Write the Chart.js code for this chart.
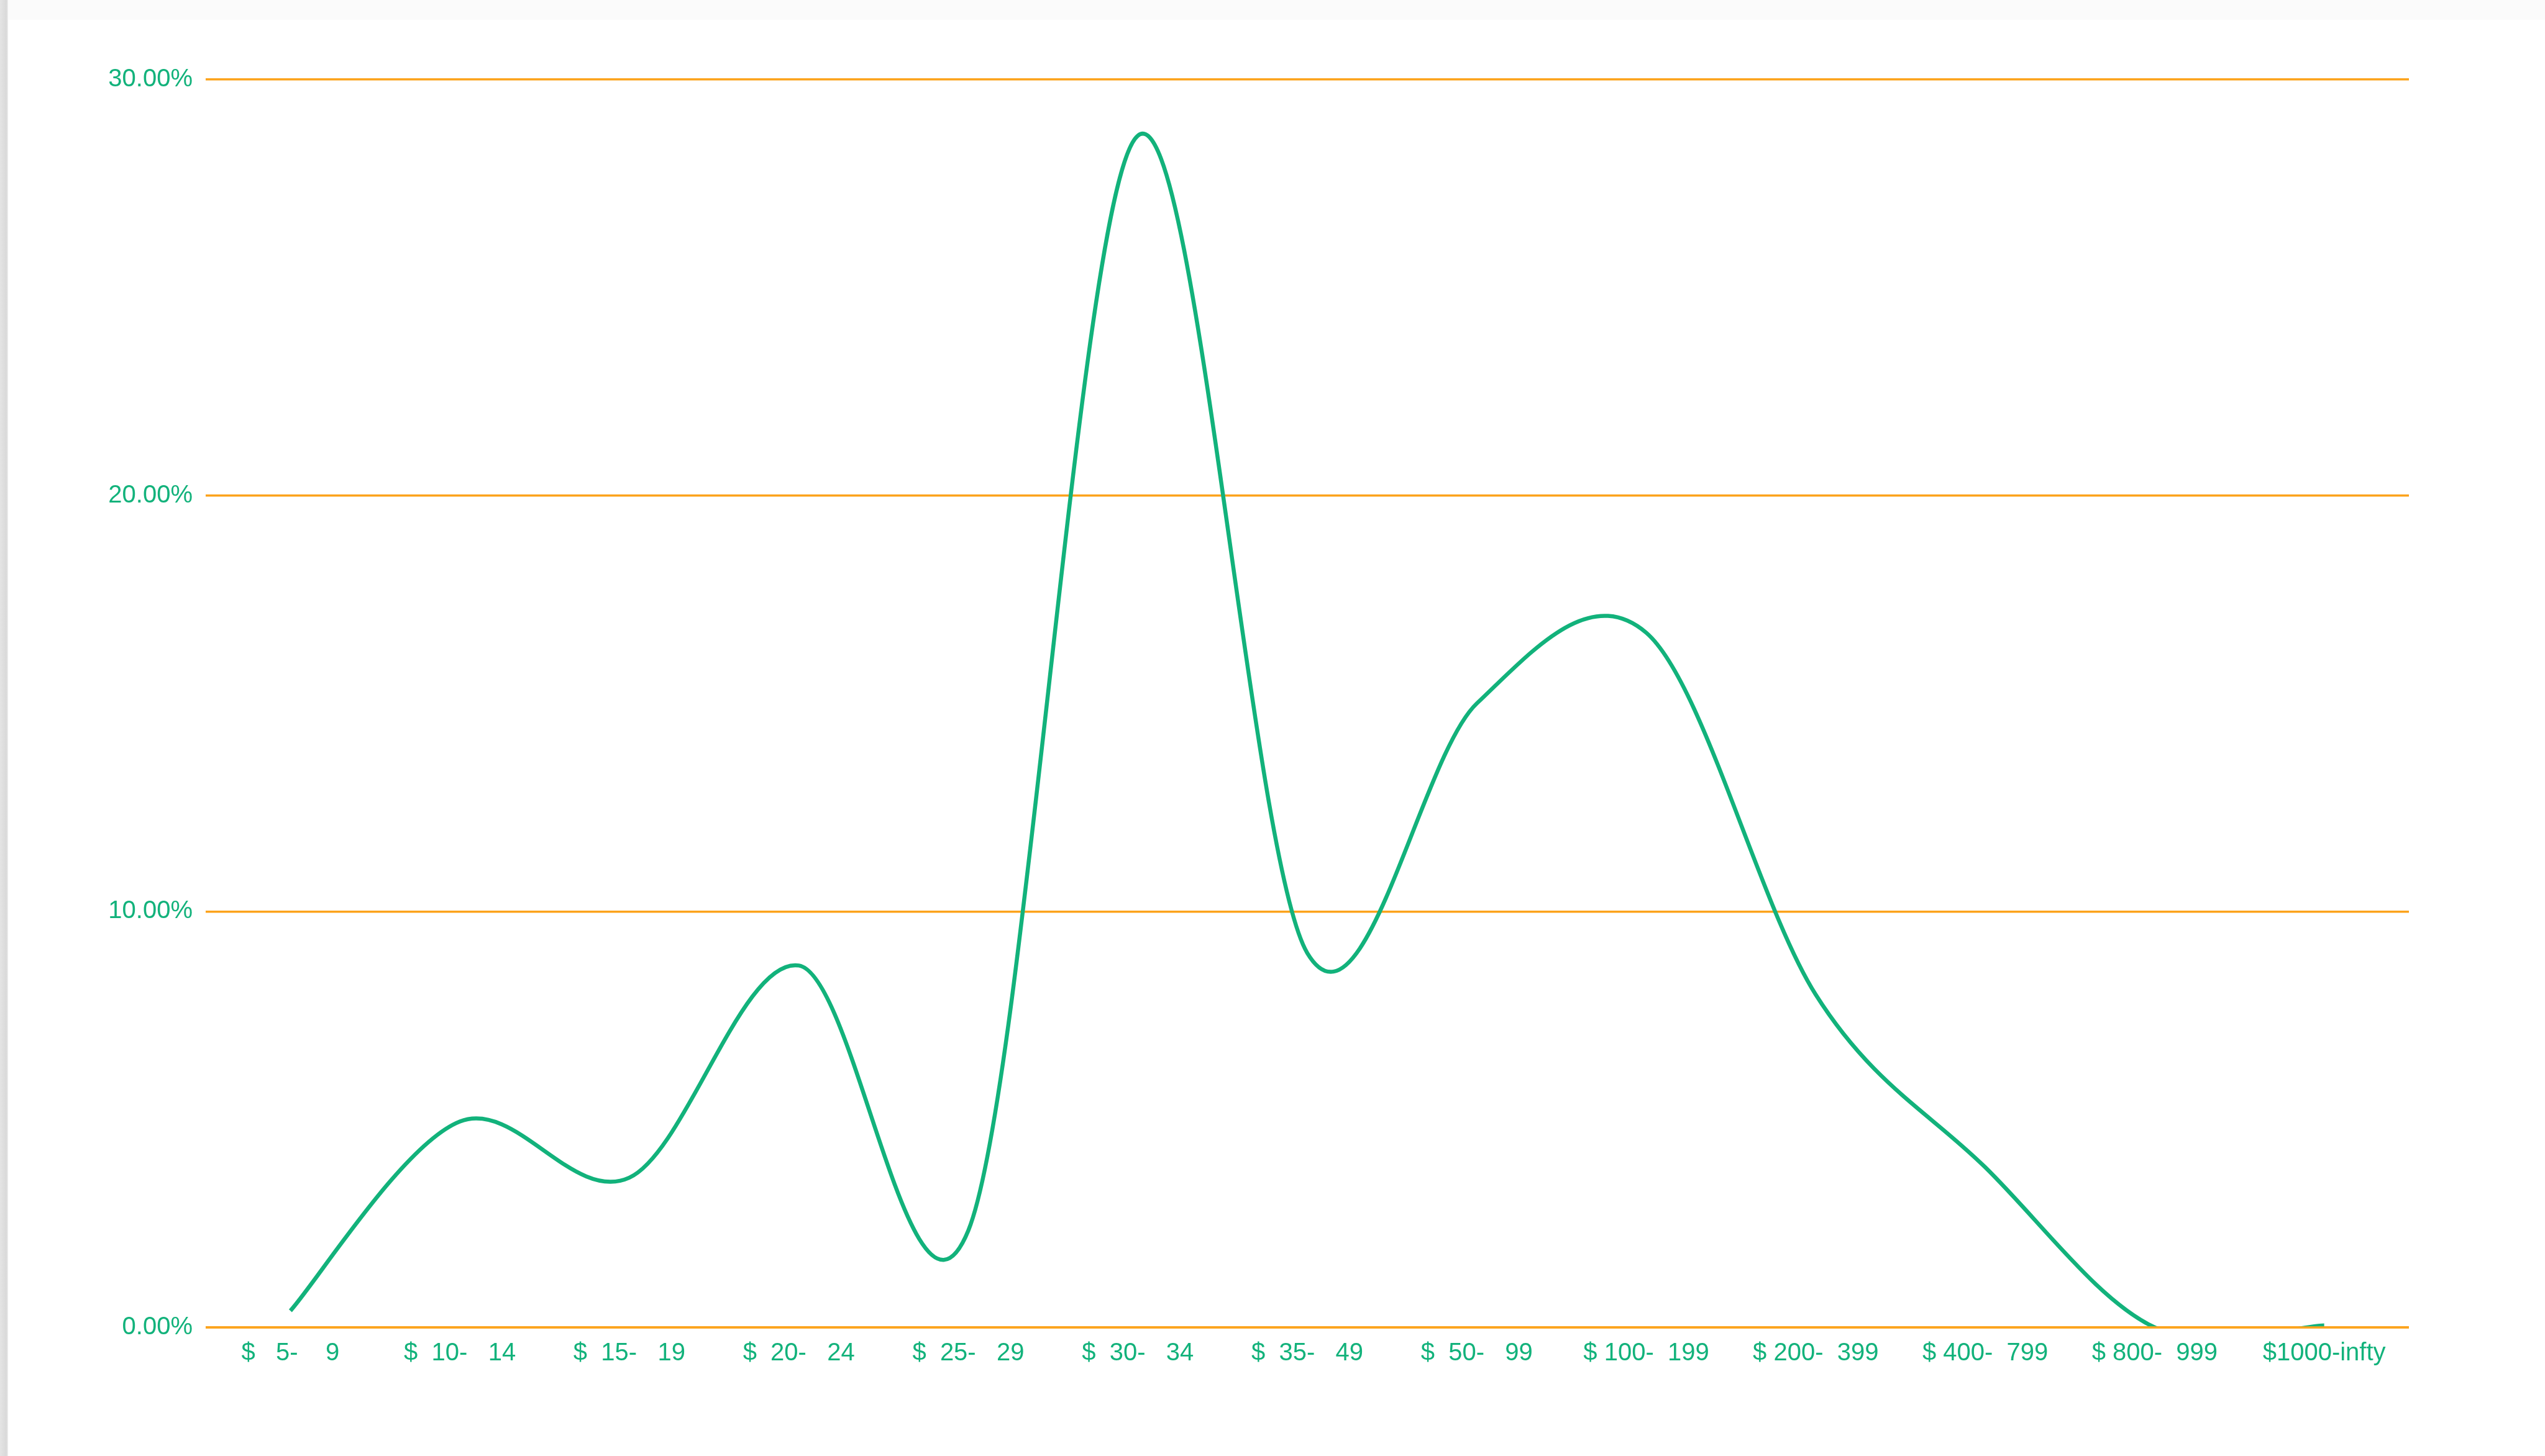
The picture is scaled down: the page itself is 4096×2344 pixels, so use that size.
<!DOCTYPE html>
<html>
<head>
<meta charset="utf-8">
<script src="https://cdn.jsdelivr.net/npm/chart.js@4.4.0/dist/chart.umd.min.js"></script>
<style>
  html, body { margin: 0; padding: 0; background: #fff; }
  #wrap { position: absolute; left: 0; top: 0; width: 4096px; height: 2344px; }
  #topband { position: absolute; left: 0; top: 0; width: 4096px; height: 32px; background: #fbfbfb; }
  #leftstrip { position: absolute; left: 0; top: 0; width: 13px; height: 2344px;
    background: linear-gradient(to right, #e4e4e4, #d9d9d9 80%, #f0f0f0); }
</style>
</head>
<body>
<div id="topband"></div>
<div id="wrap"><canvas id="price-chart"></canvas></div>
<div id="leftstrip"></div>
<script>
const priceBands = [
  '$   5-    9', '$  10-   14', '$  15-   19', '$  20-   24', '$  25-   29', '$  30-   34',
  '$  35-   49', '$  50-   99', '$ 100-  199', '$ 200-  399', '$ 400-  799', '$ 800-  999',
  '$1000-infty'
];
// share of items per price band, in percent
const shareValues = [0.4, 4.95, 3.6, 8.7, 2.33, 28.65, 9.0, 15.0, 16.7, 8.0, 3.85, 0.0, 0.05];
const yTicks = [0, 10, 20, 30];

const green = '#12b27b';
const orange = '#fca31c';
const font = { family: '"Liberation Sans", Arial, sans-serif', size: 40 };

// spreadsheet-style smoothing (plain Catmull-Rom) instead of Chart.js distance weighting
const smoothCurve = {
  id: 'smoothCurve',
  beforeDatasetDraw(chart, args) {
    const meta = args.meta;
    meta.dataset.updateControlPoints(chart.chartArea, meta.iScale.axis);
    const pts = meta.data;
    const k = 1 / 6;
    for (let i = 0; i < pts.length; i++) {
      const prev = pts[Math.max(i - 1, 0)];
      const next = pts[Math.min(i + 1, pts.length - 1)];
      const dx = (next.x - prev.x) * k;
      const dy = (next.y - prev.y) * k;
      pts[i].cp1x = pts[i].x - dx;
      pts[i].cp1y = pts[i].y - dy;
      pts[i].cp2x = pts[i].x + dx;
      pts[i].cp2y = pts[i].y + dy;
    }
  },
};

// redraw the zero line over the curve, like the original
const zeroLineOnTop = {
  id: 'zeroLineOnTop',
  afterDatasetsDraw(chart) {
    const { ctx, chartArea, scales } = chart;
    const y = scales.y.getPixelForValue(0);
    ctx.save();
    ctx.strokeStyle = orange;
    ctx.lineWidth = 3.5;
    ctx.beginPath();
    ctx.moveTo(chartArea.left, y);
    ctx.lineTo(chartArea.right, y);
    ctx.stroke();
    ctx.restore();
  },
};

const ctx = document.getElementById('price-chart').getContext('2d');
const priceChart = new Chart(ctx, {
  type: 'line',
  data: {
    labels: priceBands,
    datasets: [
      {
        label: 'Share',
        data: shareValues,
        borderColor: green,
        backgroundColor: green,
        borderWidth: 6.5,
        pointRadius: 0,
        tension: 0.4,
        capBezierPoints: false,
        clip: 0,
      },
    ],
  },
  options: {
    responsive: true,
    maintainAspectRatio: false,
    animation: false,
    layout: {
      padding: { left: 0, top: 128, right: 219, bottom: 123 },
    },
    plugins: {
      legend: { display: false },
      tooltip: { enabled: false },
    },
    scales: {
      x: {
        offset: true,
        grid: { display: false, drawTicks: false },
        border: { display: false },
        ticks: {
          color: green,
          font: font,
          padding: 18,
          autoSkip: false,
          maxRotation: 0,
        },
      },
      y: {
        min: 0,
        max: 30,
        afterFit: (scale) => { scale.width = 331; },
        afterBuildTicks: (scale) => { scale.ticks = yTicks.map((v) => ({ value: v })); },
        grid: { color: orange, lineWidth: 3.5, drawTicks: false },
        border: { display: false },
        ticks: {
          color: green,
          font: font,
          padding: 21,
          callback: (v) => v.toFixed(2) + '%',
        },
      },
    },
  },
  plugins: [smoothCurve, zeroLineOnTop],
});
</script>
</body>
</html>
